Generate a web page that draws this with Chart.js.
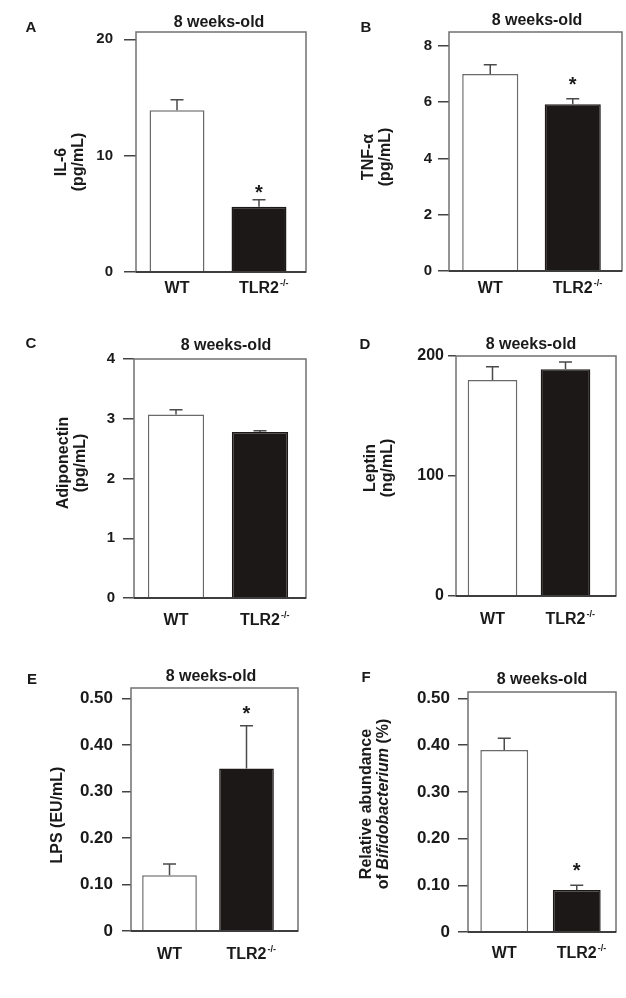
<!DOCTYPE html>
<html>
<head>
<meta charset="utf-8">
<title>8 weeks-old: WT vs TLR2-/-</title>
<script src="https://cdn.jsdelivr.net/npm/chart.js@4.4.1/dist/chart.umd.min.js"></script>
<style>
  body { margin: 0; background: #fff; }
  #figure { position: relative; width: 626px; height: 998px; }
  #figure canvas { position: absolute; }
</style>
</head>
<body>
<div id="figure"></div>
<script>
// groups on the x axis (the -/- superscript is drawn next to the 2nd one)
const groups = ['WT', 'TLR2'];

// A - IL-6 (pg/mL)
const il6Mean = [13.9, 5.6];
const il6Sem = [0.9, 0.6];
const il6Stars = ['', '*'];
const il6Ticks = [0, 10, 20];
const il6TickLabels = ['0', '10', '20'];

// B - TNF-alpha (pg/mL)
const tnfMean = [7.0, 5.92];
const tnfSem = [0.33, 0.2];
const tnfStars = ['', '*'];
const tnfTicks = [0, 2, 4, 6, 8];
const tnfTickLabels = ['0', '2', '4', '6', '8'];

// C - Adiponectin (pg/mL)
const adipoMean = [3.07, 2.78];
const adipoSem = [0.08, 0.02];
const adipoStars = ['', ''];
const adipoTicks = [0, 1, 2, 3, 4];
const adipoTickLabels = ['0', '1', '2', '3', '4'];

// D - Leptin (ng/mL)
const leptinMean = [180, 189];
const leptinSem = [11, 6];
const leptinStars = ['', ''];
const leptinTicks = [0, 100, 200];
const leptinTickLabels = ['0', '100', '200'];

// E - LPS (EU/mL)
const lpsMean = [0.12, 0.35];
const lpsSem = [0.024, 0.092];
const lpsStars = ['', '*'];
const lpsTicks = [0, 0.1, 0.2, 0.3, 0.4, 0.5];
const lpsTickLabels = ['0', '0.10', '0.20', '0.30', '0.40', '0.50'];

// F - Relative abundance of Bifidobacterium (%)
const bifidoMean = [0.39, 0.09];
const bifidoSem = [0.025, 0.01];
const bifidoStars = ['', '*'];
const bifidoTicks = [0, 0.1, 0.2, 0.3, 0.4, 0.5];
const bifidoTickLabels = ['0', '0.10', '0.20', '0.30', '0.40', '0.50'];

const panelTitle = '8 weeks-old';
const FONT = '"Liberation Sans", Arial, Helvetica, sans-serif';
const INK = '#1a1a1a';
const BAR_COLORS = ['#ffffff', '#1c1817'];
const BAR_BORDERS = ['#6a6a6a', '#1c1817'];

// layout in page pixels: canvas = [x, y, w, h], area = [left, top, right, bottom]
const panels = [
  { letter: 'A', mean: il6Mean, sem: il6Sem, stars: il6Stars, ticks: il6Ticks, tickLabels: il6TickLabels,
    yTitle: [[['IL-6', false]], [['(pg/mL)', false]]],
    canvas: [0, 0, 313, 320], area: [136, 32, 300, 272], frameRight: 306, yMax: 20.63,
    letterAt: [31, 28], titleAt: [219, 23], yTitleAt: [70, 162],
    tickFont: 15, tickLen: 12, tickPad: 11, xPad: 7, barPct: 0.67, starGap: 12 },
  { letter: 'B', mean: tnfMean, sem: tnfSem, stars: tnfStars, ticks: tnfTicks, tickLabels: tnfTickLabels,
    yTitle: [[['TNF-\u03b1', false]], [['(pg/mL)', false]]],
    canvas: [313, 0, 313, 320], area: [449, 32, 614, 271], frameRight: 622, yMax: 8.49,
    letterAt: [366, 28], titleAt: [537, 21], yTitleAt: [377, 157],
    tickFont: 15, tickLen: 11, tickPad: 6, xPad: 8, barPct: 0.68, starGap: 19 },
  { letter: 'C', mean: adipoMean, sem: adipoSem, stars: adipoStars, ticks: adipoTicks, tickLabels: adipoTickLabels,
    yTitle: [[['Adiponectin', false]], [['(pg/mL)', false]]],
    canvas: [0, 320, 313, 330], area: [134, 359, 302, 598], frameRight: 306, yMax: 4,
    letterAt: [31, 344], titleAt: [226, 346], yTitleAt: [72, 463],
    tickFont: 15, tickLen: 11, tickPad: 8, xPad: 13, barPct: 0.67, starGap: 15 },
  { letter: 'D', mean: leptinMean, sem: leptinSem, stars: leptinStars, ticks: leptinTicks, tickLabels: leptinTickLabels,
    yTitle: [[['Leptin', false]], [['(ng/mL)', false]]],
    canvas: [313, 320, 313, 330], area: [456, 356, 602, 596], frameRight: 616, yMax: 200,
    letterAt: [365, 345], titleAt: [531, 345], yTitleAt: [379, 468],
    tickFont: 16, tickLen: 8, tickPad: 4, xPad: 14, barPct: 0.68, starGap: 15 },
  { letter: 'E', mean: lpsMean, sem: lpsSem, stars: lpsStars, ticks: lpsTicks, tickLabels: lpsTickLabels,
    yTitle: [[['LPS (EU/mL)', false]]],
    canvas: [0, 650, 313, 348], area: [131, 688, 285, 931], frameRight: 298, yMax: 0.523,
    letterAt: [32, 680], titleAt: [211, 677], yTitleAt: [58, 815],
    tickFont: 17, tickLen: 9, tickPad: 9, xPad: 14, barPct: 0.71, starGap: 17 },
  { letter: 'F', mean: bifidoMean, sem: bifidoSem, stars: bifidoStars, ticks: bifidoTicks, tickLabels: bifidoTickLabels,
    yTitle: [[['Relative abundance', false]], [['of ', false], ['Bifidobacterium', true], [' (%)', false]]],
    canvas: [313, 650, 313, 348], area: [468, 692, 613, 932], frameRight: 616, yMax: 0.514,
    letterAt: [366, 678], titleAt: [542, 680], yTitleAt: [375, 804],
    tickFont: 17, tickLen: 10, tickPad: 8, xPad: 12, barPct: 0.66, starGap: 20 }
];

// frame, error bars, stars, titles and labels that Chart.js has no option for
function decorPlugin(p) {
  const [cx, cy] = p.canvas;
  return {
    id: 'decor',
    afterDatasetsDraw(chart) {
      const { ctx, chartArea: a, scales: { y } } = chart;
      const meta = chart.getDatasetMeta(0);
      ctx.save();

      // SEM bars, upper half only
      ctx.strokeStyle = '#4a4a4a';
      ctx.lineWidth = 1.5;
      p.mean.forEach((m, i) => {
        const bx = meta.data[i].x;
        const y0 = y.getPixelForValue(m);
        const y1 = y.getPixelForValue(m + p.sem[i]);
        ctx.beginPath();
        ctx.moveTo(bx, y0);
        ctx.lineTo(bx, y1);
        ctx.moveTo(bx - 6.5, y1);
        ctx.lineTo(bx + 6.5, y1);
        ctx.stroke();
        if (p.stars[i]) {
          ctx.fillStyle = INK;
          ctx.font = `bold 20px ${FONT}`;
          ctx.textAlign = 'center';
          ctx.textBaseline = 'alphabetic';
          ctx.fillText(p.stars[i], bx, y1 - p.starGap + 0.57 * 20);
        }
      });

      // box around the plot
      const right = p.frameRight - cx;
      ctx.strokeStyle = '#707070';
      ctx.lineWidth = 1.5;
      ctx.strokeRect(a.left, a.top, right - a.left, a.bottom - a.top);
      ctx.strokeStyle = '#222';
      ctx.beginPath();
      ctx.moveTo(a.left, a.bottom);
      ctx.lineTo(right, a.bottom);
      ctx.stroke();
      ctx.restore();
    },
    afterDraw(chart) {
      const ctx = chart.ctx;
      const xs = chart.scales.x;
      ctx.save();
      ctx.fillStyle = INK;
      ctx.textAlign = 'center';
      ctx.textBaseline = 'middle';

      // panel letter and title
      ctx.font = `bold 15px ${FONT}`;
      ctx.fillText(p.letter, p.letterAt[0] - cx, p.letterAt[1] - cy);
      ctx.font = `bold 16px ${FONT}`;
      ctx.fillText(panelTitle, p.titleAt[0] - cx, p.titleAt[1] - cy);

      // -/- superscript after TLR2
      ctx.font = `bold 16px ${FONT}`;
      const w = ctx.measureText(groups[1]).width;
      const labelMid = xs.top + p.xPad + 16 * 1.2 / 2;
      ctx.font = `bold 9px ${FONT}`;
      ctx.textAlign = 'left';
      ctx.fillText('-/-', xs.getPixelForTick(1) + w / 2 + 1, labelMid - 5);

      // rotated y title, lines made of plain / italic pieces
      const gap = 17;
      ctx.translate(p.yTitleAt[0] - cx, p.yTitleAt[1] - cy);
      ctx.rotate(-Math.PI / 2);
      p.yTitle.forEach((line, i) => {
        const fontFor = it => `${it ? 'italic ' : ''}bold 16px ${FONT}`;
        let total = 0;
        line.forEach(([t, it]) => { ctx.font = fontFor(it); total += ctx.measureText(t).width; });
        let x = -total / 2;
        const ly = (i - (p.yTitle.length - 1) / 2) * gap;
        line.forEach(([t, it]) => {
          ctx.font = fontFor(it);
          ctx.textAlign = 'left';
          ctx.fillText(t, x, ly);
          x += ctx.measureText(t).width;
        });
      });
      ctx.restore();
    }
  };
}

const figure = document.getElementById('figure');

panels.forEach(p => {
  const [cx, cy, cw, ch] = p.canvas;
  const [l, t, r, b] = p.area;
  const canvas = document.createElement('canvas');
  canvas.width = cw;
  canvas.height = ch;
  canvas.style.left = cx + 'px';
  canvas.style.top = cy + 'px';
  canvas.style.width = cw + 'px';
  canvas.style.height = ch + 'px';
  figure.appendChild(canvas);

  new Chart(canvas, {
    type: 'bar',
    data: {
      labels: groups,
      datasets: [{
        data: p.mean,
        backgroundColor: BAR_COLORS,
        borderColor: BAR_BORDERS,
        borderWidth: 1.5,
        barPercentage: p.barPct,
        categoryPercentage: 1
      }]
    },
    options: {
      responsive: false,
      animation: false,
      devicePixelRatio: 1,
      layout: { padding: { left: 0, top: t - cy, right: cx + cw - r, bottom: 0 } },
      plugins: { legend: { display: false }, tooltip: { enabled: false }, title: { display: false } },
      scales: {
        x: {
          grid: { display: false, drawTicks: false },
          border: { display: false },
          ticks: { color: INK, padding: p.xPad, maxRotation: 0, font: { family: FONT, size: 16, weight: 'bold' } },
          afterFit: s => { s.height = cy + ch - b; }
        },
        y: {
          min: 0,
          max: p.yMax,
          grid: { drawOnChartArea: false, drawTicks: true, tickLength: p.tickLen, color: '#444', lineWidth: 1.5 },
          border: { display: false },
          ticks: {
            color: INK,
            padding: p.tickPad,
            font: { family: FONT, size: p.tickFont, weight: 'bold' },
            callback: (v, i) => p.tickLabels[i]
          },
          afterBuildTicks: s => { s.ticks = p.ticks.map(v => ({ value: v })); },
          afterFit: s => { s.width = l - cx; }
        }
      }
    },
    plugins: [decorPlugin(p)]
  });
});
</script>
</body>
</html>
